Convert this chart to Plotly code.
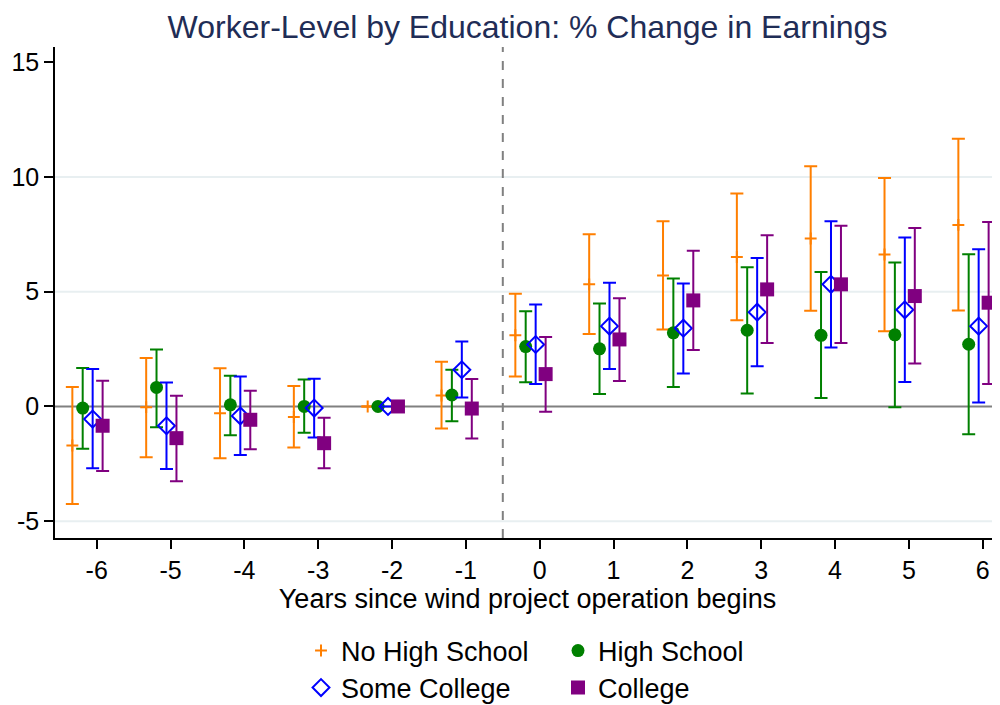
import plotly.graph_objects as go

periods = [-6, -5, -4, -3, -2, -1, 0, 1, 2, 3, 4, 5, 6]
tick_labels = ["-6", "-5", "-4", "-3", "-2", "-1", "0", "1", "2", "3", "4", "5", "6"]

nohs_est = [-1.70, -0.03, -0.29, -0.46, 0.0, 0.48, 3.10, 5.32, 5.71, 6.51, 7.32, 6.62, 7.91]
nohs_lo = [-4.25, -2.21, -2.26, -1.79, None, -0.96, 1.31, 3.16, 3.35, 3.76, 4.17, 3.28, 4.18]
nohs_hi = [0.85, 2.11, 1.66, 0.89, None, 1.95, 4.91, 7.50, 8.07, 9.28, 10.46, 9.95, 11.66]

hs_est = [-0.07, 0.83, 0.07, 0.00, 0.0, 0.50, 2.61, 2.51, 3.21, 3.32, 3.10, 3.12, 2.71]
hs_lo = [-1.84, -0.90, -1.25, -1.15, None, -0.64, 1.05, 0.54, 0.85, 0.56, 0.37, -0.03, -1.21]
hs_hi = [1.68, 2.48, 1.34, 1.17, None, 1.60, 4.15, 4.49, 5.57, 6.06, 5.86, 6.27, 6.63]

sc_est = [-0.55, -0.84, -0.41, -0.07, 0.0, 1.60, 2.70, 3.50, 3.41, 4.11, 5.32, 4.21, 3.50]
sc_lo = [-2.69, -2.72, -2.11, -1.35, None, 0.39, 0.98, 1.63, 1.44, 1.75, 2.57, 1.07, 0.17]
sc_hi = [1.63, 1.04, 1.31, 1.21, None, 2.83, 4.44, 5.39, 5.36, 6.47, 8.07, 7.36, 6.85]

col_est = [-0.84, -1.38, -0.58, -1.60, 0.0, -0.09, 1.41, 2.92, 4.62, 5.10, 5.32, 4.81, 4.52]
col_lo = [-2.81, -3.26, -1.86, -2.69, None, -1.40, -0.23, 1.11, 2.46, 2.77, 2.77, 1.87, 0.98]
col_hi = [1.12, 0.47, 0.69, -0.49, None, 1.20, 3.03, 4.71, 6.78, 7.46, 7.87, 7.77, 8.04]

series_names = ["No High School", "High School", "Some College", "College"]

FONT = "Liberation Sans, Arial, sans-serif"

# figure is drawn inside the page body (8px default margin)
W, H = 992, 697
L, R, T, B = 47, 0, 39, 167


def plus(est, hi):
    return [None if h is None else h - e for e, h in zip(est, hi)]


def minus(est, lo):
    return [None if l is None else e - l for e, l in zip(est, lo)]


styles = [
    dict(offset=-0.33, color="#ff7f00", symbol="cross-thin", size=8.5, lw=2, legend="legend"),
    dict(offset=-0.19, color="#008000", symbol="circle", size=13, lw=0, legend="legend"),
    dict(offset=-0.055, color="#0000ff", symbol="diamond-open", size=13, lw=2, legend="legend2"),
    dict(offset=0.08, color="#800080", symbol="square", size=14, lw=0, legend="legend2"),
]
data = [
    (nohs_est, nohs_lo, nohs_hi),
    (hs_est, hs_lo, hs_hi),
    (sc_est, sc_lo, sc_hi),
    (col_est, col_lo, col_hi),
]

fig = go.Figure()
for name, st, (est, lo, hi) in zip(series_names, styles, data):
    fig.add_trace(go.Scatter(
        x=[p + st["offset"] for p in periods],
        y=est,
        mode="markers",
        name=name,
        legend=st["legend"],
        marker=dict(symbol=st["symbol"], size=st["size"], color=st["color"],
                    line=dict(color=st["color"], width=st["lw"])),
        error_y=dict(type="data", symmetric=False, array=plus(est, hi),
                     arrayminus=minus(est, lo), color=st["color"],
                     thickness=2, width=6.5),
        cliponaxis=False,
    ))

# light gridlines
for g in [-5, 5, 10]:
    fig.add_shape(type="line", xref="paper", yref="y", x0=0, x1=1, y0=g, y1=g,
                  line=dict(color="#e8eff1", width=2), layer="below")
# zero line
fig.add_shape(type="line", xref="paper", yref="y", x0=0, x1=1, y0=0, y1=0,
              line=dict(color="#808080", width=2), layer="below")
# event line
fig.add_shape(type="line", xref="x", yref="paper", x0=-0.5, x1=-0.5, y0=0, y1=1,
              line=dict(color="#808080", width=2, dash="dash"), layer="below")

PW = W - L - R
PH = H - T - B
axis_bottom = H - B


def leg_y(center_px):
    return -(center_px - axis_bottom) / PH


legend_common = dict(
    orientation="h", xanchor="left", yanchor="middle",
    font=dict(family=FONT, size=27, color="#000000"),
    bgcolor="rgba(0,0,0,0)", entrywidth=212, entrywidthmode="pixels",
    itemwidth=30, tracegroupgap=0,
)

fig.update_layout(
    width=W, height=H,
    margin=dict(l=L, r=R, t=T, b=B, autoexpand=False),
    paper_bgcolor="white", plot_bgcolor="white",
    font=dict(family=FONT, size=24, color="#000000"),
    title=dict(text="Worker-Level by Education: % Change in Earnings",
               x=0.5, xref="paper", xanchor="center", y=1 - 19 / H, yref="container",
               yanchor="middle", font=dict(family=FONT, size=32, color="#1f2d56")),
    xaxis=dict(
        range=[-6.565, 6.234], tickmode="array", tickvals=periods, ticktext=tick_labels,
        showgrid=False, zeroline=False, showline=True, linecolor="#000000", linewidth=1.5,
        ticks="outside", ticklen=9, tickwidth=1.5, tickcolor="#000000",
        tickfont=dict(family=FONT, size=25, color="#000000"),
        title=dict(text="Years since wind project operation begins",
                   font=dict(family=FONT, size=27, color="#000000"), standoff=6),
    ),
    yaxis=dict(
        range=[-5.73, 15.66], tickmode="array", tickvals=[-5, 0, 5, 10, 15],
        ticktext=["-5", "0", "5", "10", "15"],
        showgrid=False, zeroline=False, showline=True, linecolor="#000000", linewidth=1.5,
        ticks="outside", ticklen=9, tickwidth=1.5, tickcolor="#000000",
        tickfont=dict(family=FONT, size=25, color="#000000"),
    ),
    legend=dict(x=(293 - L) / PW, y=leg_y(643), **legend_common),
    legend2=dict(x=(293 - L) / PW, y=leg_y(680), **legend_common),
)

fig.write_html("out.html")
